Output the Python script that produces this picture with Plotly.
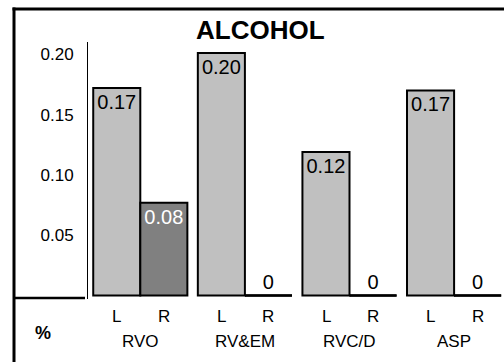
import plotly.graph_objects as go

groups = ["RVO", "RV&EM", "RVC/D", "ASP"]
left_values = [0.172, 0.201, 0.119, 0.170]
right_values = [0.077, 0.0, 0.0, 0.0]
y_ticks = [0.05, 0.10, 0.15, 0.20]
title_text = "ALCOHOL"
unit_text = "%"
side_labels = ["L", "R"]

FONT = "Arial, Liberation Sans, sans-serif"
W, H = 504, 362
BARGAP = 0.1


def fmt(v):
    return "0" if v == 0 else f"{v:.2f}"


def px_x(p):
    return p / W


def px_y(p):
    return 1 - p / H


fig = go.Figure()
fig.add_trace(go.Bar(
    x=groups, y=left_values, name="L",
    text=[fmt(v) for v in left_values],
    textposition="inside", insidetextanchor="end",
    textfont=dict(family=FONT, size=20, color="black"),
    marker=dict(color="#c0c0c0", line=dict(color="black", width=2)),
    cliponaxis=False,
))
fig.add_trace(go.Bar(
    x=groups, y=right_values, name="R",
    text=[fmt(v) for v in right_values],
    textposition=["inside" if v > 0 else "outside" for v in right_values],
    insidetextanchor="end",
    insidetextfont=dict(family=FONT, size=20, color="white"),
    outsidetextfont=dict(family=FONT, size=20, color="black"),
    marker=dict(color="#808080", line=dict(color="black", width=2)),
    cliponaxis=False,
))

# zero-height R bars drawn as flat outlines on an overlaid numeric axis
half = (1 - BARGAP) / 2
zx, zy = [], []
for i, v in enumerate(right_values):
    if v == 0:
        zx += [i, i + half, None]
        zy += [v, v, None]
fig.add_trace(go.Scatter(x=zx, y=zy, xaxis="x2", mode="lines",
                         line=dict(color="black", width=2.5), hoverinfo="skip"))

y0_px, ytop_px = 295.5, 42
pad_px = 3
units_per_px = 0.05 / 60.3
ymax = (y0_px - ytop_px) * units_per_px
ymin = -pad_px * units_per_px

gstep = 104.6
x_start = 88
xrange = [-0.5, -0.5 + (W - x_start) / gstep]


def ann(text, x, y, size, xref="paper", xshift=0):
    return dict(text=text, x=x, y=y, xref=xref, yref="paper", xshift=xshift,
                xanchor="center", yanchor="middle", showarrow=False,
                font=dict(family=FONT, size=size, color="black"))


annotations = [
    ann(f"<b>{title_text}</b>", px_x(260), px_y(30), 26),
    ann(f"<b>{unit_text}</b>", px_x(43), px_y(333), 18),
]
for g in groups:
    for lab, sh in zip(side_labels, [-23.5, 23.5]):
        annotations.append(ann(lab, g, px_y(316), 17, xref="x", xshift=sh))
    annotations.append(ann(g, g, px_y(341), 17, xref="x"))

shapes = [
    dict(type="line", xref="paper", yref="paper", x0=px_x(12.5), x1=1.0, y0=px_y(9), y1=px_y(9),
         line=dict(color="black", width=3)),
    dict(type="line", xref="paper", yref="paper", x0=px_x(14), x1=px_x(14), y0=px_y(7.5), y1=0,
         line=dict(color="black", width=3)),
    dict(type="line", xref="paper", yref="paper", x0=px_x(13), x1=px_x(85), y0=px_y(298), y1=px_y(298),
         line=dict(color="black", width=2.5)),
]

fig.update_layout(
    width=W, height=H, autosize=False,
    margin=dict(l=0, r=0, t=0, b=0),
    paper_bgcolor="white", plot_bgcolor="white",
    barmode="group", bargap=BARGAP, bargroupgap=0,
    showlegend=False,
    xaxis=dict(domain=[px_x(x_start), 1], range=xrange,
               showticklabels=False, showgrid=False, zeroline=False, showline=False, ticks=""),
    xaxis2=dict(domain=[px_x(x_start), 1], range=xrange, overlaying="x", type="linear",
                visible=False),
    yaxis=dict(domain=[px_y(y0_px + pad_px), px_y(ytop_px)], range=[ymin, ymax],
               tickvals=y_ticks, ticktext=[f"{v:.2f}" for v in y_ticks],
               tickfont=dict(family=FONT, size=17, color="black"),
               ticks="", ticklabelstandoff=10,
               showgrid=False, zeroline=False, showline=True, linecolor="black", linewidth=1),
    annotations=annotations,
    shapes=shapes,
)

fig.write_html("out.html", config={"displayModeBar": False},
               post_script="document.body.style.margin='0';document.body.style.overflow='hidden';")
